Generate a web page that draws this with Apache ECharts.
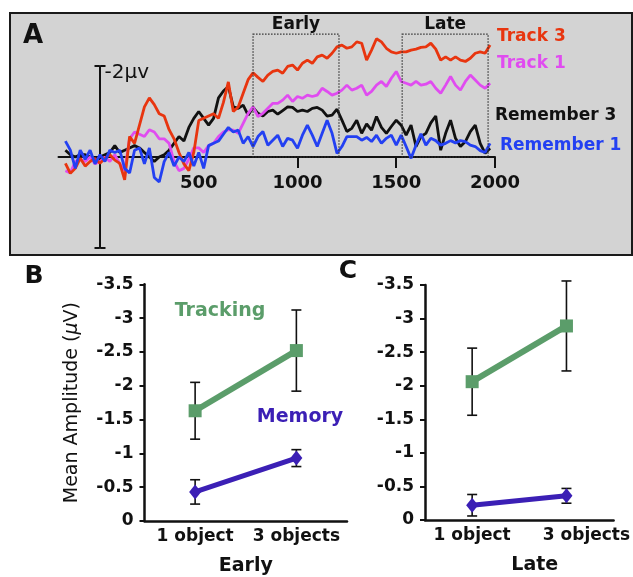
<!DOCTYPE html>
<html>
<head>
<meta charset="utf-8">
<script src="https://cdn.jsdelivr.net/npm/echarts@6/dist/echarts.min.js"></script>
<style>
  html, body { margin: 0; padding: 0; background: #fff; }
  #main { width: 633px; height: 577px; }
</style>
</head>
<body>
<div id="main"></div>
<script>
// panel A: ERP waveforms (ms, microvolts; negative is up)
const times = [-175, -150, -125, -100, -75, -50, -25, 0, 25, 50, 75, 100, 125, 150, 175, 200, 225, 250, 275, 300,
  325, 350, 375, 400, 425, 450, 475, 500, 525, 550, 575, 600, 625, 650, 675, 700, 725, 750, 775, 800,
  825, 850, 875, 900, 925, 950, 975, 1000, 1025, 1050, 1075, 1100, 1125, 1150, 1175, 1200, 1225, 1250, 1275, 1300,
  1325, 1350, 1375, 1400, 1425, 1450, 1475, 1500, 1525, 1550, 1575, 1600, 1625, 1650, 1675, 1700, 1725, 1750, 1775, 1800,
  1825, 1850, 1875, 1900, 1925, 1950, 1975];

const track3 = [0.14, 0.36, 0.25, 0.03, 0.2, 0.1, 0.03, 0.14, 0.03, -0.05, 0.07, 0.14, 0.5, -0.45, -0.3, -0.7, -1.1, -1.3, -1.15, -0.95,
  -0.9, -0.6, -0.4, -0.1, 0.15, 0.3, -0.1, -0.8, -0.85, -0.9, -0.95, -0.85, -1.2, -1.65, -1.0, -1.1, -1.4, -1.7, -1.85, -1.75,
  -1.66, -1.8, -1.88, -1.91, -1.84, -1.99, -2.02, -1.91, -2.06, -2.13, -2.06, -2.2, -2.24, -2.17, -2.28, -2.42, -2.46, -2.39, -2.42, -2.53,
  -2.5, -2.13, -2.35, -2.6, -2.53, -2.39, -2.31, -2.28, -2.31, -2.31, -2.35, -2.37, -2.41, -2.42, -2.5, -2.37, -2.13, -2.2, -2.13, -2.2,
  -2.13, -2.1, -2.17, -2.28, -2.31, -2.28, -2.46];

const track1 = [0.3, 0.35, 0.1, 0.05, 0.1, 0.0, 0.15, 0.1, 0.0, 0.1, -0.05, 0.15, 0.3, -0.4, -0.55, -0.5, -0.45, -0.6, -0.55, -0.4,
  -0.4, -0.3, 0.1, 0.3, 0.25, 0.05, -0.2, -0.2, -0.1, -0.25, -0.3, -0.45, -0.55, -0.6, -0.59, -0.52, -0.74, -0.96, -1.1, -0.89,
  -0.96, -1.07, -1.18, -1.18, -1.25, -1.36, -1.22, -1.33, -1.29, -1.36, -1.33, -1.36, -1.51, -1.44, -1.36, -1.4, -1.47, -1.58, -1.47, -1.51,
  -1.58, -1.36, -1.44, -1.58, -1.66, -1.55, -1.73, -1.88, -1.66, -1.62, -1.58, -1.66, -1.58, -1.6, -1.66, -1.51, -1.4, -1.58, -1.77, -1.58,
  -1.47, -1.66, -1.8, -1.69, -1.58, -1.51, -1.62];

const remember3 = [-0.15, -0.05, 0.0, -0.05, -0.05, 0.0, 0.05, 0.0, -0.05, -0.1, -0.25, -0.1, -0.15, -0.2, -0.25, -0.2, -0.1, 0.0, 0.1, 0.0,
  -0.05, -0.15, -0.3, -0.45, -0.35, -0.65, -0.85, -1.0, -0.85, -0.7, -0.85, -1.3, -1.45, -1.55, -1.1, -1.07, -1.14, -0.92, -1.09, -0.96,
  -0.9, -1.0, -1.03, -0.94, -1.02, -1.1, -1.09, -1.0, -1.03, -1.0, -1.07, -1.09, -1.03, -0.9, -0.92, -1.05, -0.81, -0.56, -0.63, -0.81,
  -0.52, -0.73, -0.59, -0.89, -0.65, -0.52, -0.67, -0.81, -0.7, -0.48, -0.7, -0.23, -0.45, -0.52, -0.75, -0.9, -0.15, -0.52, -0.81, -0.41,
  -0.23, -0.34, -0.56, -0.7, -0.3, -0.08, -0.19];

const remember1 = [-0.35, -0.15, 0.25, -0.15, 0.05, -0.15, 0.15, -0.05, 0.1, -0.15, -0.1, -0.15, 0.25, 0.35, -0.15, -0.2, 0.15, -0.2, 0.45, 0.55,
  0.1, -0.1, 0.2, 0.0, 0.1, -0.1, 0.2, -0.1, 0.25, -0.25, -0.3, -0.35, -0.5, -0.65, -0.55, -0.59, -0.3, -0.45, -0.23, -0.45,
  -0.56, -0.26, -0.37, -0.48, -0.23, -0.41, -0.37, -0.19, -0.48, -0.7, -0.48, -0.23, -0.52, -0.81, -0.52, -0.08, -0.23, -0.45, -0.45, -0.45,
  -0.37, -0.43, -0.34, -0.48, -0.3, -0.41, -0.48, -0.26, -0.48, -0.23, 0.03, -0.26, -0.51, -0.26, -0.41, -0.36, -0.26, -0.3, -0.36, -0.31,
  -0.36, -0.34, -0.26, -0.23, -0.14, -0.1, -0.3];

const timeLabels = [500, 1000, 1500, 2000];
const timeTicks = [1000, 1500, 2000];
const scaleBar = [-2, 2];

const windowNames = ["Early", "Late"];
const windowStart = [775, 1530];
const windowEnd = [1210, 1965];
const windowTop = -2.7;

// panels B and C: mean amplitude with error bars
const conditions = ["1 object", "3 objects"];
const earlyTracking = [-1.63, -2.52];
const earlyTrackingErr = [0.42, 0.6];
const earlyMemory = [-0.43, -0.93];
const earlyMemoryErr = [0.18, 0.125];
const lateTracking = [-2.06, -2.89];
const lateTrackingErr = [0.5, 0.67];
const lateMemory = [-0.22, -0.36];
const lateMemoryErr = [0.16, 0.11];

const FONT = "DejaVu Sans";
const RED = "#e8350f";
const MAGENTA = "#e04cf0";
const BLUE = "#2340f2";
const GREEN = "#5b9d6a";
const PURPLE = "#3b1fb5";

const chart = echarts.init(document.getElementById("main"));

function wave(name, values, color) {
  return {
    name: name,
    type: "line",
    xAxisIndex: 0,
    yAxisIndex: 0,
    data: times.map((t, i) => [t, values[i]]),
    showSymbol: false,
    symbol: "none",
    clip: false,
    lineStyle: {color: color, width: 2.8},
    z: 3,
  };
}

function errorBars(xIndex, yIndex, means, errs) {
  return {
    type: "custom",
    xAxisIndex: xIndex,
    yAxisIndex: yIndex,
    z: 1,
    data: means.map((m, i) => [i, m, errs[i]]),
    encode: {x: 0, y: 1},
    renderItem: function(params, api) {
      const x = api.value(0);
      const y = api.value(1);
      const e = api.value(2);
      const hi = api.coord([x, y - e]);
      const lo = api.coord([x, y + e]);
      const w = 5;
      const st = {stroke: "#111", lineWidth: 1.6};
      return {
        type: "group",
        children: [
          {type: "line", shape: {x1: hi[0], y1: hi[1], x2: lo[0], y2: lo[1]}, style: st},
          {type: "line", shape: {x1: hi[0] - w, y1: hi[1], x2: hi[0] + w, y2: hi[1]}, style: st},
          {type: "line", shape: {x1: lo[0] - w, y1: lo[1], x2: lo[0] + w, y2: lo[1]}, style: st},
        ],
      };
    },
  };
}

function meanLine(xIndex, yIndex, values, color, symbol, size, width) {
  return {
    type: "line",
    xAxisIndex: xIndex,
    yAxisIndex: yIndex,
    data: values,
    symbol: symbol,
    symbolSize: size,
    showAllSymbol: true,
    lineStyle: {color: color, width: width},
    itemStyle: {color: color},
    z: 3,
  };
}

const axisBlack = {color: "#111", width: 2.5};
const boldLabel = {fontFamily: FONT, fontWeight: "bold", fontSize: 17, color: "#111"};

function catAxis(gridIndex, name, extra) {
  return Object.assign({
    type: "category",
    gridIndex: gridIndex,
    data: conditions,
    boundaryGap: true,
    axisLine: {lineStyle: axisBlack},
    axisTick: {inside: true, length: 7, interval: 0, lineStyle: {color: "#111", width: 2.5}},
    axisLabel: Object.assign({margin: 7, interval: 0}, boldLabel),
    splitLine: {show: false},
    name: name,
    nameLocation: "middle",
    nameGap: 36,
    nameTextStyle: {fontFamily: FONT, fontWeight: "bold", fontSize: 19, color: "#111"},
  }, extra || {});
}

function ampAxis(gridIndex, extra) {
  return Object.assign({
    type: "value",
    gridIndex: gridIndex,
    min: -3.5,
    max: 0,
    interval: 0.5,
    inverse: true,
    axisLine: {show: true, lineStyle: axisBlack},
    axisTick: {show: true, length: 5, lineStyle: {color: "#111", width: 2}},
    axisLabel: Object.assign({margin: 11}, boldLabel),
    splitLine: {show: false},
  }, extra || {});
}

function scaleAxis(position, extra) {
  return Object.assign({
    type: "value",
    gridIndex: 3,
    position: position,
    min: -2,
    max: 2,
    inverse: true,
    axisLine: {show: true, onZero: false, lineStyle: {color: "#111", width: 2}},
    axisTick: {show: true, customValues: scaleBar, length: 5, lineStyle: {color: "#111", width: 2}},
    axisLabel: {show: false},
    splitLine: {show: false},
  }, extra || {});
}

const option = {
  animation: false,
  backgroundColor: "#fff",
  grid: [
    {left: 58.5, top: 66, width: 436.5, height: 91},
    {left: 144.5, top: 284.3, width: 202.5, height: 237.4},
    {left: 425, top: 285, width: 189, height: 235},
    {left: 99.5, top: 66, width: 1, height: 182},
  ],
  xAxis: [
    {
      type: "value",
      gridIndex: 0,
      min: -210,
      max: 2000,
      axisLine: {onZero: false, lineStyle: {color: "#111", width: 2}},
      axisTick: {show: true, customValues: timeTicks, length: 11, lineStyle: {color: "#111", width: 2}},
      axisLabel: {customValues: timeLabels, formatter: (v) => String(v), margin: 17,
        fontFamily: FONT, fontWeight: "bold", fontSize: 18, color: "#111"},
      splitLine: {show: false},
    },
    catAxis(1, "Early"),
    catAxis(2, "Late", {
      axisLabel: Object.assign({
        margin: 7,
        interval: 0,
        formatter: (v) => (v === conditions[1] ? "{r|" + v + "}" : v),
        rich: {r: Object.assign({padding: [0, 0, 0, 40]}, boldLabel)},
      }, boldLabel),
      nameTextStyle: {fontFamily: FONT, fontWeight: "bold", fontSize: 19, color: "#111", padding: [0, 0, 0, 31]},
    }),
    {type: "value", gridIndex: 3, min: 0, max: 1, show: false},
  ],
  yAxis: [
    {type: "value", gridIndex: 0, min: -2, max: 0, inverse: true, show: false},
    scaleAxis("left"),
    ampAxis(1, {
      name: "{n|Mean Amplitude (}{i|μ}{n|V)}",
      nameLocation: "middle",
      nameRotate: 90,
      nameGap: 63,
      nameTextStyle: {
        rich: {
          n: {fontFamily: FONT, fontSize: 19, color: "#111"},
          i: {fontFamily: FONT, fontSize: 19, fontStyle: "italic", color: "#111"},
        },
      },
    }),
    ampAxis(2),
    scaleAxis("right", {
      axisLine: {show: false, onZero: false},
      axisLabel: {
        customValues: [scaleBar[0]],
        formatter: () => "-2μv",
        margin: 4,
        verticalAlign: "top",
        lineHeight: 13,
        fontFamily: FONT,
        fontSize: 20,
        color: "#111",
      },
    }),
  ],
  graphic: [
    {type: "rect", z: -10, shape: {x: 10, y: 13, width: 622, height: 242},
      style: {fill: "#d3d3d3", stroke: "#1a1a1a", lineWidth: 2}},
    {type: "text", z: 100, x: 33, y: 36, style: {text: "A", font: "bold 26px \"DejaVu Sans\"", fill: "#111", align: "center", verticalAlign: "middle"}},
    {type: "text", z: 100, x: 34, y: 276, style: {text: "B", font: "bold 25px \"DejaVu Sans\"", fill: "#111", align: "center", verticalAlign: "middle"}},
    {type: "text", z: 100, x: 348, y: 271, style: {text: "C", font: "bold 25px \"DejaVu Sans\"", fill: "#111", align: "center", verticalAlign: "middle"}},
    {type: "text", z: 100, x: 497, y: 37, style: {text: "Track 3", font: "bold 17px \"DejaVu Sans\"", fill: RED, align: "left", verticalAlign: "middle"}},
    {type: "text", z: 100, x: 497, y: 64, style: {text: "Track 1", font: "bold 17px \"DejaVu Sans\"", fill: MAGENTA, align: "left", verticalAlign: "middle"}},
    {type: "text", z: 100, x: 495, y: 116, style: {text: "Remember 3", font: "bold 17px \"DejaVu Sans\"", fill: "#111", align: "left", verticalAlign: "middle"}},
    {type: "text", z: 100, x: 500, y: 146, style: {text: "Remember 1", font: "bold 17px \"DejaVu Sans\"", fill: BLUE, align: "left", verticalAlign: "middle"}},
    {type: "text", z: 100, x: 220, y: 311, style: {text: "Tracking", font: "bold 19px \"DejaVu Sans\"", fill: GREEN, align: "center", verticalAlign: "middle"}},
    {type: "text", z: 100, x: 300, y: 417, style: {text: "Memory", font: "bold 19px \"DejaVu Sans\"", fill: PURPLE, align: "center", verticalAlign: "middle"}},
  ],
  series: [
    {
      type: "custom",
      xAxisIndex: 0,
      yAxisIndex: 0,
      clip: false,
      z: 4,
      data: windowStart.map((s, i) => [s, windowEnd[i]]),
      encode: {x: [0, 1]},
      renderItem: function(params, api) {
        const p0 = api.coord([api.value(0), windowTop]);
        const p1 = api.coord([api.value(1), 0]);
        return {
          type: "group",
          children: [
            {type: "rect", shape: {x: p0[0], y: p0[1], width: p1[0] - p0[0], height: p1[1] - p0[1]},
              style: {fill: "none", stroke: "#333", lineWidth: 1.2, lineDash: [1.5, 1.5]}},
            {type: "text", x: (p0[0] + p1[0]) / 2, y: p0[1] - 1,
              style: {text: windowNames[params.dataIndex], font: "bold 17px \"DejaVu Sans\"", fill: "#111", align: "center", verticalAlign: "bottom"}},
          ],
        };
      },
    },
    wave("Remember 3", remember3, "#111"),
    wave("Track 1", track1, MAGENTA),
    wave("Track 3", track3, RED),
    wave("Remember 1", remember1, BLUE),
    errorBars(1, 2, earlyTracking, earlyTrackingErr),
    errorBars(1, 2, earlyMemory, earlyMemoryErr),
    errorBars(2, 3, lateTracking, lateTrackingErr),
    errorBars(2, 3, lateMemory, lateMemoryErr),
    meanLine(1, 2, earlyTracking, GREEN, "rect", 13, 6),
    meanLine(1, 2, earlyMemory, PURPLE, "diamond", [12, 15], 5),
    meanLine(2, 3, lateTracking, GREEN, "rect", 13, 6),
    meanLine(2, 3, lateMemory, PURPLE, "diamond", [12, 15], 5),
  ],
};

chart.setOption(option);
</script>
</body>
</html>
